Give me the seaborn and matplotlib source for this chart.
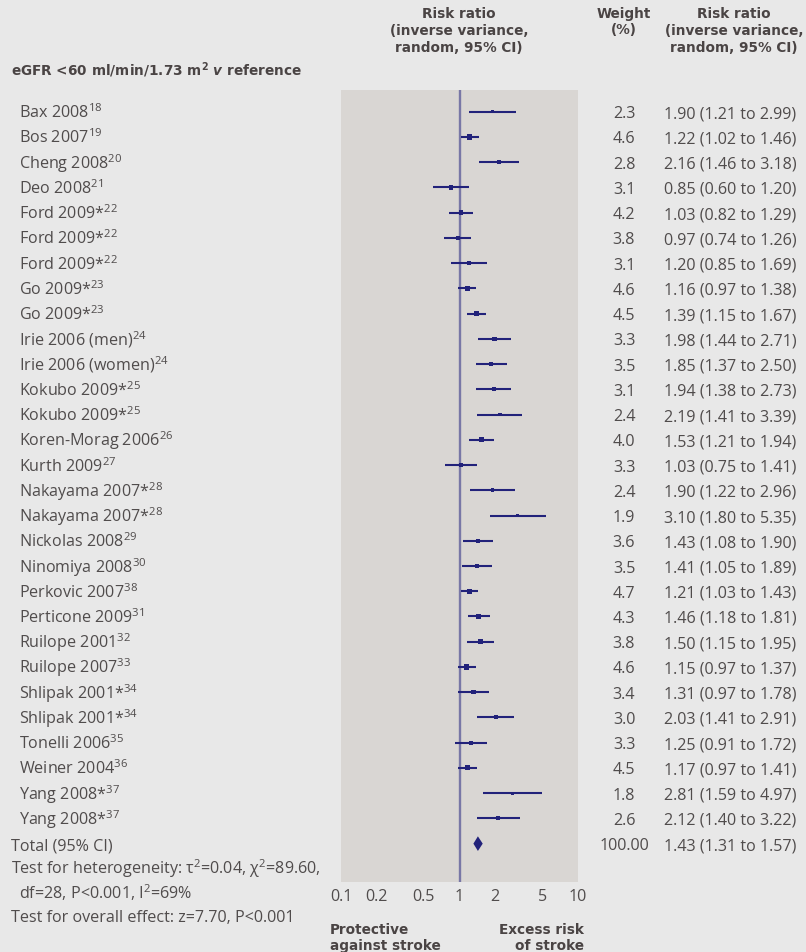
import matplotlib
matplotlib.use("Agg")
import matplotlib.pyplot as plt
import matplotlib.transforms as mtransforms
from matplotlib.ticker import FixedLocator, NullFormatter
import numpy as np
import pandas as pd
import seaborn as sns

# ---- data -------------------------------------------------------------
studies = ["Bax 2008", "Bos 2007", "Cheng 2008", "Deo 2008", "Ford 2009*",
           "Ford 2009*", "Ford 2009*", "Go 2009*", "Go 2009*", "Irie 2006 (men)",
           "Irie 2006 (women)", "Kokubo 2009*", "Kokubo 2009*", "Koren-Morag 2006",
           "Kurth 2009", "Nakayama 2007*", "Nakayama 2007*", "Nickolas 2008",
           "Ninomiya 2008", "Perkovic 2007", "Perticone 2009", "Ruilope 2001",
           "Ruilope 2007", "Shlipak 2001*", "Shlipak 2001*", "Tonelli 2006",
           "Weiner 2004", "Yang 2008*", "Yang 2008*"]
refs = [18, 19, 20, 21, 22, 22, 22, 23, 23, 24, 24, 25, 25, 26, 27, 28, 28,
        29, 30, 38, 31, 32, 33, 34, 34, 35, 36, 37, 37]
weights = [2.3, 4.6, 2.8, 3.1, 4.2, 3.8, 3.1, 4.6, 4.5, 3.3, 3.5, 3.1, 2.4,
           4.0, 3.3, 2.4, 1.9, 3.6, 3.5, 4.7, 4.3, 3.8, 4.6, 3.4, 3.0, 3.3,
           4.5, 1.8, 2.6]
rr = [1.90, 1.22, 2.16, 0.85, 1.03, 0.97, 1.20, 1.16, 1.39, 1.98, 1.85, 1.94,
      2.19, 1.53, 1.03, 1.90, 3.10, 1.43, 1.41, 1.21, 1.46, 1.50, 1.15, 1.31,
      2.03, 1.25, 1.17, 2.81, 2.12]
ci_low = [1.21, 1.02, 1.46, 0.60, 0.82, 0.74, 0.85, 0.97, 1.15, 1.44, 1.37,
          1.38, 1.41, 1.21, 0.75, 1.22, 1.80, 1.08, 1.05, 1.03, 1.18, 1.15,
          0.97, 0.97, 1.41, 0.91, 0.97, 1.59, 1.40]
ci_high = [2.99, 1.46, 3.18, 1.20, 1.29, 1.26, 1.69, 1.38, 1.67, 2.71, 2.50,
           2.73, 3.39, 1.94, 1.41, 2.96, 5.35, 1.90, 1.89, 1.43, 1.81, 1.95,
           1.37, 1.78, 2.91, 1.72, 1.41, 4.97, 3.22]
total_weight = "100.00"
total_rr, total_low, total_high = 1.43, 1.31, 1.57

tick_values = [0.1, 0.2, 0.5, 1, 2, 5, 10]
tick_labels = ["0.1", "0.2", "0.5", "1", "2", "5", "10"]
minor_marks = [0.2, 0.5, 2, 5]

# ---- style ------------------------------------------------------------
BG = "#e8e8e8"
PANEL = "#d9d6d3"
NAVY = "#22227a"
REFLINE = "#7877a6"
TXT = "#504c4c"
HEAD = "#4a4444"
BODY_FONT = "Open Sans"
HEAD_FONT = "DejaVu Sans"
BODY_SIZE = 11.6
HEAD_SIZE = 9.8

sns.set_theme(style="white", rc={"axes.facecolor": PANEL, "figure.facecolor": BG})
plt.rcParams["font.family"] = [BODY_FONT, "DejaVu Sans"]
plt.rcParams["mathtext.fontset"] = "custom"
plt.rcParams["mathtext.rm"] = BODY_FONT
plt.rcParams["mathtext.bf"] = f"{HEAD_FONT}:bold"
plt.rcParams["mathtext.it"] = f"{HEAD_FONT}:italic:bold"

W, H = 806, 953
fig = plt.figure(figsize=(W / 100, H / 100), dpi=100, facecolor=BG)


def fx(px):
    return px / W


def fy(py):
    return 1 - py / H


ax = fig.add_axes([fx(341), fy(883), fx(578) - fx(341), fy(91) - fy(883)])
ax.set_facecolor(PANEL)

n = len(studies)
df = pd.DataFrame({"study": studies, "ref": refs, "weight": weights, "rr": rr,
                   "low": ci_low, "high": ci_high, "row": np.arange(n)})
total_row = n

ax.axvline(1, color=REFLINE, lw=1.7, zorder=1)
ax.hlines(df["row"], df["low"], df["high"], color=NAVY, lw=1.5, zorder=2)
sns.scatterplot(data=df, x="rr", y="row", size="weight", sizes=(5, 14),
                size_norm=(1.8, 4.7), marker="s", color=NAVY, linewidth=0,
                legend=False, ax=ax, zorder=3)
ax.fill([total_low, total_rr, total_high, total_rr],
        [total_row, total_row - 0.29, total_row, total_row + 0.29],
        color=NAVY, lw=0, zorder=3)

ax.set_xscale("log")
ax.set_xlim(0.1, 10)
ax.set_ylim(30.52, -0.86)
ax.set_xticks(tick_values)
ax.set_xticklabels(tick_labels)
ax.xaxis.set_minor_locator(FixedLocator(minor_marks))
ax.xaxis.set_minor_formatter(NullFormatter())
ax.tick_params(axis="x", which="major", length=0, pad=4, labelsize=BODY_SIZE,
               labelcolor=TXT)
ax.tick_params(axis="x", which="minor", direction="in", length=4.5, width=1.2,
               color="white", bottom=True)
ax.set_yticks([])
ax.set_xlabel("")
ax.set_ylabel("")
for s in ax.spines.values():
    s.set_visible(False)

# ---- row texts --------------------------------------------------------
row_tr = mtransforms.offset_copy(
    mtransforms.blended_transform_factory(fig.transFigure, ax.transData),
    y=-5.5, units="dots")
body = dict(fontsize=BODY_SIZE, color=TXT, va="baseline", transform=row_tr,
            clip_on=False)

for r in df.itertuples():
    fig.text(fx(19), r.row, f"{r.study}$^{{{r.ref}}}$", ha="left", **body)
    fig.text(fx(624), r.row, f"{r.weight:.1f}", ha="center", **body)
    fig.text(fx(664), r.row, f"{r.rr:.2f} ({r.low:.2f} to {r.high:.2f})",
             ha="left", **body)

fig.text(fx(11), total_row, "Total (95% CI)", ha="left", **body)
fig.text(fx(624), total_row, total_weight, ha="center", **body)
fig.text(fx(664), total_row,
         f"{total_rr:.2f} ({total_low:.2f} to {total_high:.2f})", ha="left", **body)

foot = dict(fontsize=BODY_SIZE, color=TXT, va="center")
fig.text(fx(11), fy(869), "Test for heterogeneity: τ$^2$=0.04, χ$^2$=89.60,", **foot)
fig.text(fx(19), fy(893), "df=28, P<0.001, I$^2$=69%", **foot)
fig.text(fx(11), fy(918), "Test for overall effect: z=7.70, P<0.001", **foot)

# ---- headings ---------------------------------------------------------
head = dict(fontsize=HEAD_SIZE, color=HEAD, family=HEAD_FONT, fontweight="bold",
            va="center", linespacing=1.25)
fig.text(fx(459), fy(31), "Risk ratio\n(inverse variance,\nrandom, 95% CI)",
         ha="center", multialignment="center", **head)
fig.text(fx(624), fy(22), "Weight\n(%)", ha="center", multialignment="center", **head)
fig.text(fx(734), fy(31), "Risk ratio\n(inverse variance,\nrandom, 95% CI)",
         ha="center", multialignment="center", **head)
fig.text(fx(11), fy(70), r"eGFR <60 ml/min/1.73 m$^{\mathbf{2}}$ $\mathit{v}$ reference",
         ha="left", **head)
fig.text(fx(330), fy(938), "Protective\nagainst stroke", ha="left",
         multialignment="left", **head)
fig.text(fx(584), fy(938), "Excess risk\nof stroke", ha="right",
         multialignment="right", **head)

fig.savefig("out.png", dpi=100, facecolor=BG)
